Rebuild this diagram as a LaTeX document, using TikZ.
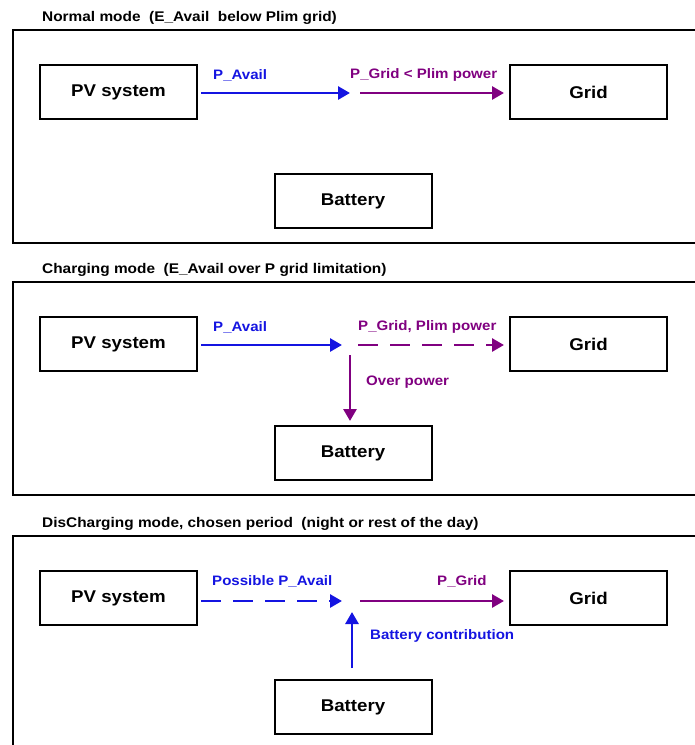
\documentclass[tikz,border=0pt]{standalone}
\usepackage{fontspec}
\setmainfont{Liberation Sans}
\newfontfamily\wideb[FakeStretch=1.1]{Liberation Sans Bold}
\usetikzlibrary{arrows.meta}

\definecolor{flowblue}{RGB}{20,20,225}
\definecolor{flowpurple}{RGB}{128,0,128}

\begin{document}
\begin{tikzpicture}[x=1pt, y=-1pt, line join=miter,
  box/.style={draw, line width=2pt, minimum width=157pt, minimum height=54pt, inner sep=0pt,
    font=\wideb\fontsize{17}{20}\selectfont},
  caption/.style={anchor=west, inner sep=0pt, font=\wideb\fontsize{14}{16}\selectfont},
  flowlabel/.style={anchor=west, inner sep=0pt, font=\wideb\fontsize{13.7}{16}\selectfont},
  flow/.style={line width=2.8pt, -{Triangle[width=13pt,length=12pt]}},
  dashflow/.style={flow, dash pattern=on 20pt off 12pt}]
  \path[use as bounding box] (0,0) rectangle (695,745);

  % ── three panels: frame, title, three boxes ──（panels every 252pt down）
  \foreach \o/\t [count=\i] in {0/{Normal mode~ (E\_Avail~ below Plim grid)},
      252/{Charging mode~ (E\_Avail over P grid limitation)},
      506/{DisCharging mode, chosen period~ (night or rest of the day)}} {
    \draw[line width=1.2pt] (13,30+\o) rectangle (702,243+\o);
    \node[caption] (title\i) at (42,18+\o) {\t};
    \node[box] (pv\i)   at (118.5,92+\o) {PV system};
    \node[box] (grid\i) at (588.5,92+\o) {Grid};
    \node[box] (bat\i)  at (353,201+\o)  {Battery};
  }

  % ── junctions where the flows meet ──
  \coordinate (j1) at (355,93);
  \coordinate (j2) at (350,345);
  \coordinate (j3) at (352,601);

  % ── normal mode ──
  \draw[flow, flowblue, shorten <=3pt, shorten >=5pt] (pv1.east |- j1) -- (j1);
  \draw[flow, flowpurple, shorten <=5pt, shorten >=5pt] (j1) -- (grid1.west |- j1);
  \node[flowlabel, text=flowblue] (avail1) at (213,75) {P\_Avail};
  \node[flowlabel, text=flowpurple] (plim1) at (350,75) {P\_Grid < Plim power};

  % ── charging mode ──
  \draw[flow, flowblue, shorten <=3pt, shorten >=8pt] (pv2.east |- j2) -- (j2);
  \draw[dashflow, flowpurple, shorten <=8pt, shorten >=5pt] (j2) -- (grid2.west |- j2);
  \draw[flow, flowpurple, shorten <=10pt, shorten >=4pt] (j2) -- (bat2.north -| j2);
  \node[flowlabel, text=flowblue] (avail2) at (213,327) {P\_Avail};
  \node[flowlabel, text=flowpurple] (plim2) at (358,327) {P\_Grid, Plim power};
  \node[flowlabel, text=flowpurple] (over2) at (366,382) {Over power};

  % ── discharging mode ──
  \draw[dashflow, flowblue, shorten <=3pt, shorten >=10pt] (pv3.east |- j3) -- (j3);
  \draw[flow, flowpurple, shorten <=8pt, shorten >=5pt] (j3) -- (grid3.west |- j3);
  \draw[flow, flowblue, shorten <=11pt, shorten >=11pt] (bat3.north -| j3) -- (j3);
  \node[flowlabel, text=flowblue] (avail3) at (212,581) {Possible P\_Avail};
  \node[flowlabel, text=flowpurple] (pgrid3) at (437,581) {P\_Grid};
  \node[flowlabel, text=flowblue] (contrib3) at (370,636) {Battery contribution};
\end{tikzpicture}
\end{document}
